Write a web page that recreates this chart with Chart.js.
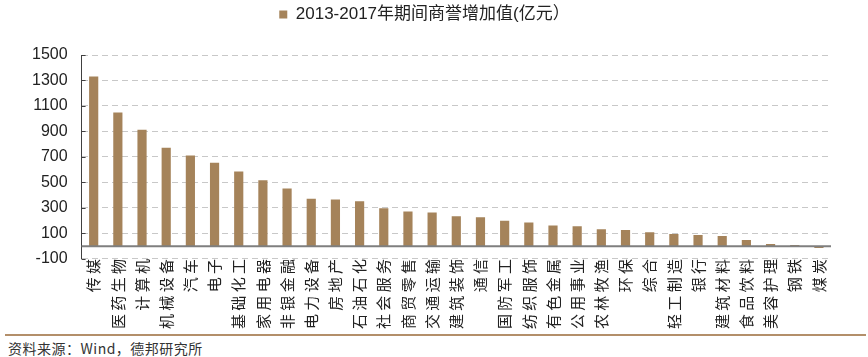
<!DOCTYPE html>
<html>
<head>
<meta charset="utf-8">
<script src="https://cdn.jsdelivr.net/npm/chart.js@4.4.1/dist/chart.umd.min.js"></script>
<style>
  html, body { margin: 0; padding: 0; background: #fff; width: 868px; height: 357px; overflow: hidden; }
  #wrap { position: absolute; left: 0; top: 0; width: 868px; height: 333px; }
  #rule { position: absolute; left: 5px; top: 334px; width: 861px; height: 2px; background: #b38f6a; }
  #src { position: absolute; left: 8px; top: 340px; font: 14px "Noto Sans CJK SC", "Liberation Sans", sans-serif; letter-spacing: 0.5px; color: #333; line-height: 16px; }
</style>
</head>
<body>
<div id="wrap"><canvas id="c"></canvas></div>
<div id="rule"></div>
<div id="src">资料来源：Wind，德邦研究所</div>
<script>
const categories = ["传媒","医药生物","计算机","机械设备","汽车","电子","基础化工","家用电器","非银金融","电力设备","房地产","石油石化","社会服务","商贸零售","交通运输","建筑装饰","通信","国防军工","纺织服饰","有色金属","公用事业","农林牧渔","环保","综合","轻工制造","银行","建筑材料","食品饮料","美容护理","钢铁","煤炭"];
const goodwillIncrease = [1331,1049,914,773,712,655,586,517,452,372,367,352,298,272,264,234,226,200,185,162,156,133,126,110,95,87,79,49,18,10,-15];
const seriesLabel = "2013-2017年期间商誉增加值(亿元）";
const yTicks = [-100,100,300,500,700,900,1100,1300,1500];

const barColor = "#a5835a";

const legendGap = {
  id: "legendGap",
  beforeInit(chart) {
    if (!chart.legend) return;
    const origFit = chart.legend.fit;
    chart.legend.fit = function () {
      origFit.call(this);
      this.height += 22;
    };
  }
};

const axisDecor = {
  id: "axisDecor",
  beforeDatasetsDraw(chart) {
    const ctx = chart.ctx, y = chart.scales.y, area = chart.chartArea;
    ctx.save();
    ctx.strokeStyle = "#404040";
    ctx.lineWidth = 1;
    y.ticks.forEach(t => {
      const py = Math.round(y.getPixelForValue(t.value)) + 0.5;
      ctx.beginPath();
      ctx.moveTo(area.left, py);
      ctx.lineTo(area.left + 4, py);
      ctx.stroke();
    });
    ctx.restore();
  },
  afterDatasetsDraw(chart) {
    const ctx = chart.ctx, y = chart.scales.y, area = chart.chartArea;
    ctx.save();
    const p0 = y.getPixelForValue(0);
    ctx.strokeStyle = "#7f7f7f";
    ctx.lineWidth = 2;
    ctx.beginPath();
    ctx.moveTo(area.left, p0);
    ctx.lineTo(area.right, p0);
    ctx.stroke();
    ctx.restore();
  }
};

new Chart(document.getElementById("c"), {
  type: "bar",
  data: {
    labels: categories,
    datasets: [{
      label: seriesLabel,
      data: goodwillIncrease,
      backgroundColor: barColor,
      borderWidth: 0,
      barPercentage: 0.38,
      categoryPercentage: 1.0
    }]
  },
  options: {
    responsive: true,
    maintainAspectRatio: false,
    animation: false,
    devicePixelRatio: 1,
    layout: { padding: { left: 18, right: 37, top: 0, bottom: 4 } },
    plugins: {
      legend: {
        display: true,
        position: "top",
        labels: {
          boxWidth: 8,
          boxHeight: 8,
          padding: 6,
          color: "#222",
          font: { size: 17, family: "'Liberation Sans', 'Noto Sans CJK SC', sans-serif" }
        }
      },
      tooltip: { enabled: false }
    },
    scales: {
      x: {
        grid: { display: false, drawTicks: false },
        border: { display: false },
        ticks: {
          autoSkip: false,
          minRotation: 90,
          maxRotation: 90,
          padding: 0,
          color: "#222",
          font: { size: 15, family: "'Noto Sans CJK SC', sans-serif" },
          callback: function(v, i) { return categories[i].split("").join(" "); }
        }
      },
      y: {
        min: -100,
        max: 1500,
        afterBuildTicks: (scale) => { scale.ticks = yTicks.map(v => ({ value: v })); },
        grid: { color: "#c8c8c8", lineWidth: 1, drawTicks: false, borderDash: [6, 4] },
        border: { display: true, color: "#404040", width: 1, dash: [6, 4] },
        ticks: {
          padding: 14,
          color: "#222",
          font: { size: 16, family: "'Liberation Sans', sans-serif" },
          callback: (v) => String(v)
        }
      }
    }
  },
  plugins: [legendGap, axisDecor]
});
</script>
</body>
</html>
